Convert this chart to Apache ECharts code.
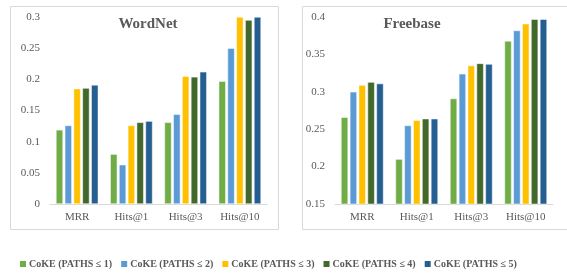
<!DOCTYPE html>
<html>
<head>
<meta charset="utf-8">
<script src="https://cdn.jsdelivr.net/npm/echarts@6/dist/echarts.min.js"></script>
<style>
  html, body { margin: 0; padding: 0; background: #fff; }
  #chart { width: 567px; height: 273px; }
</style>
</head>
<body>
<div id="chart"></div>
<script>
// metrics on the x axis
const categories = ['MRR', 'Hits@1', 'Hits@3', 'Hits@10'];
const seriesNames = ['CoKE (PATHS ≤ 1)', 'CoKE (PATHS ≤ 2)', 'CoKE (PATHS ≤ 3)', 'CoKE (PATHS ≤ 4)', 'CoKE (PATHS ≤ 5)'];
const colors = ['#70AD47', '#5B9BD5', '#FFC000', '#43682B', '#255E91'];

// WordNet values, one array per path length
const wn1 = [0.119, 0.080, 0.131, 0.197];
const wn2 = [0.126, 0.063, 0.144, 0.250];
const wn3 = [0.185, 0.126, 0.205, 0.300];
const wn4 = [0.186, 0.131, 0.204, 0.295];
const wn5 = [0.191, 0.133, 0.212, 0.300];

// Freebase values
const fb1 = [0.266, 0.210, 0.291, 0.368];
const fb2 = [0.300, 0.255, 0.324, 0.382];
const fb3 = [0.309, 0.262, 0.335, 0.391];
const fb4 = [0.313, 0.264, 0.338, 0.397];
const fb5 = [0.311, 0.264, 0.337, 0.397];

const wnTicks = [0, 0.05, 0.1, 0.15, 0.2, 0.25, 0.3];
const fbTicks = [0.15, 0.2, 0.25, 0.3, 0.35, 0.4];

const wordnet = [wn1, wn2, wn3, wn4, wn5];
const freebase = [fb1, fb2, fb3, fb4, fb5];

const font = 'Liberation Serif, Times New Roman, serif';
const grey = '#595959';

let chart = echarts.init(document.getElementById('chart'));

function xAxisFor(idx) {
  return {
    type: 'category',
    gridIndex: idx,
    data: categories,
    axisLine: {lineStyle: {color: '#D9D9D9'}},
    axisTick: {show: false},
    axisLabel: {color: grey, fontFamily: font, fontSize: 11, margin: 8}
  };
}

function yAxisFor(idx, ticks) {
  return {
    type: 'value',
    gridIndex: idx,
    min: ticks[0],
    max: ticks[ticks.length - 1],
    interval: 0.05,
    splitLine: {show: false},
    axisLine: {show: false},
    axisTick: {show: false},
    axisLabel: {color: grey, fontFamily: font, fontSize: 11, margin: 10,
      formatter: v => String(+v.toFixed(2))}
  };
}

let series = [];
[wordnet, freebase].forEach((group, g) => {
  group.forEach((data, i) => {
    series.push({
      name: seriesNames[i],
      type: 'bar',
      xAxisIndex: g,
      yAxisIndex: g,
      data: data,
      barGap: '25%',
      barCategoryGap: '22%',
      itemStyle: {color: colors[i], borderColor: '#fff', borderWidth: 0.5},
      silent: true
    });
  });
});

chart.setOption({
  animation: false,
  color: colors,
  title: [
    {text: 'WordNet', left: 143, top: 12, textAlign: 'center',
      textStyle: {fontFamily: font, fontSize: 15, fontWeight: 'bold', color: grey}},
    {text: 'Freebase', left: 407, top: 12, textAlign: 'center',
      textStyle: {fontFamily: font, fontSize: 15, fontWeight: 'bold', color: grey}}
  ],
  graphic: [
    {type: 'rect', shape: {x: 10.5, y: 6.5, width: 268, height: 223},
      style: {fill: 'none', stroke: '#D9D9D9', lineWidth: 1}, silent: true},
    {type: 'rect', shape: {x: 302.5, y: 6.5, width: 280, height: 223},
      style: {fill: 'none', stroke: '#D9D9D9', lineWidth: 1}, silent: true}
  ],
  legend: {
    data: seriesNames,
    left: 13,
    top: 254,
    itemWidth: 8,
    itemHeight: 8,
    itemGap: 7,
    icon: 'rect',
    textStyle: {fontFamily: font, fontSize: 10, fontWeight: 'bold', color: grey, padding: [0, 0, 0, -3]}
  },
  grid: [
    {left: 50, top: 17, width: 217, height: 187},
    {left: 335, top: 17, width: 218, height: 187}
  ],
  xAxis: [xAxisFor(0), xAxisFor(1)],
  yAxis: [yAxisFor(0, wnTicks), yAxisFor(1, fbTicks)],
  series: series
});
</script>
</body>
</html>
